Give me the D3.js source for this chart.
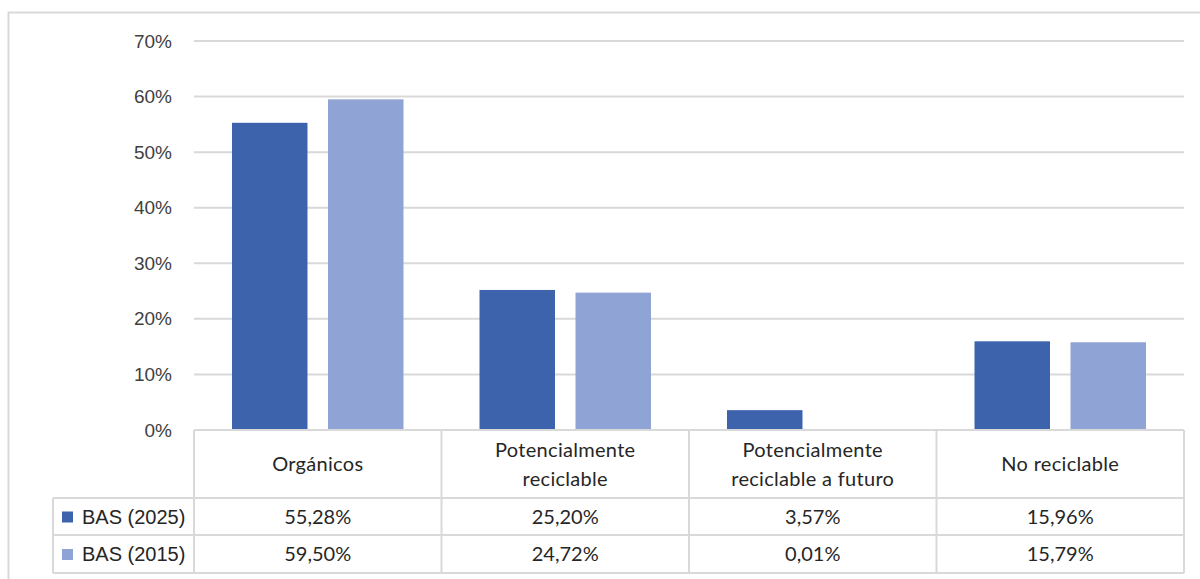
<!DOCTYPE html>
<html><head><meta charset="utf-8">
<script src="https://cdn.jsdelivr.net/npm/d3@7/dist/d3.min.js"></script>
<style>body{margin:0;background:#fff}svg{display:block}</style>
</head><body>
<svg id="c" width="1200" height="579"></svg>
<script>
const categories = [["Orgánicos"], ["Potencialmente", "reciclable"], ["Potencialmente", "reciclable a futuro"], ["No reciclable"]];
const seriesNames = ["BAS (2025)", "BAS (2015)"];
const bas2025 = [55.28, 25.20, 3.57, 15.96];
const bas2015 = [59.50, 24.72, 0.01, 15.79];
const yTicks = [0, 10, 20, 30, 40, 50, 60, 70];
const colors = ["#3C63AC", "#8FA3D4"];

const svg = d3.select("#c");
const L = 194, R = 1184, T = 41, B = 430;
const tableRows = [430, 498, 535, 573];
const legendLeft = 53;

// outer frame
svg.append("rect").attr("x", 8.5).attr("y", 12.5).attr("width", 1250).attr("height", 650)
  .attr("fill", "none").attr("stroke", "#d9d9d9").attr("stroke-width", 2);

const x0 = d3.scaleBand().domain(d3.range(categories.length)).range([L, R]);
const y = d3.scaleLinear().domain([0, 70]).range([B, T]);

// gridlines
svg.append("g").selectAll("line").data(yTicks.filter(d => d > 0)).join("line")
  .attr("x1", L).attr("x2", R).attr("y1", d => y(d)).attr("y2", d => y(d))
  .attr("stroke", "#d9d9d9").attr("stroke-width", 2);

// y axis labels
const yAxis = d3.axisLeft(y).tickValues(yTicks).tickFormat(d => d + "%").tickSize(0).tickPadding(22);
const ya = svg.append("g").attr("transform", `translate(${L},0)`).call(yAxis);
ya.select(".domain").remove();
ya.selectAll("text").attr("font-family", "Liberation Sans, Arial, sans-serif").attr("font-size", 19).attr("fill", "#404040");

// bars
const series = [bas2025, bas2015];
const bw = x0.bandwidth();
const barW = bw * 0.305;
const offsets = [-48, 48];
series.forEach((vals, si) => {
  svg.append("g").selectAll("rect").data(vals).join("rect")
    .attr("x", (d, i) => x0(i) + bw / 2 + offsets[si] - barW / 2)
    .attr("width", barW)
    .attr("y", d => y(d))
    .attr("height", d => y(0) - y(d))
    .attr("fill", colors[si]);
});

// data table
const tg = svg.append("g");
const lineC = "#d9d9d9";
tg.append("line").attr("x1", L).attr("x2", R).attr("y1", tableRows[0]).attr("y2", tableRows[0]).attr("stroke", lineC).attr("stroke-width", 2);
[1, 2, 3].forEach(k => {
  tg.append("line").attr("x1", legendLeft).attr("x2", R).attr("y1", tableRows[k]).attr("y2", tableRows[k]).attr("stroke", lineC).attr("stroke-width", 2);
});
d3.range(categories.length + 1).forEach(i => {
  const xx = i < categories.length ? x0(i) : R;
  tg.append("line").attr("x1", xx).attr("x2", xx).attr("y1", tableRows[0]).attr("y2", tableRows[3]).attr("stroke", lineC).attr("stroke-width", 2);
});
tg.append("line").attr("x1", legendLeft).attr("x2", legendLeft).attr("y1", tableRows[1]).attr("y2", tableRows[3]).attr("stroke", lineC).attr("stroke-width", 2);

const tableFont = "Lato, 'Open Sans', sans-serif";
categories.forEach((lines, i) => {
  const cx = x0(i) + bw / 2;
  const cy = (tableRows[0] + tableRows[1]) / 2;
  const lh = 29;
  lines.forEach((ln, j) => {
    tg.append("text").attr("x", cx).attr("y", cy + (j - (lines.length - 1) / 2) * lh)
      .attr("dy", "0.35em").attr("text-anchor", "middle")
      .attr("font-family", tableFont).attr("font-size", 20).attr("letter-spacing", 0.3).attr("fill", "#262626").text(ln);
  });
});
const fmt = v => v.toFixed(2).replace(".", ",") + "%";
series.forEach((vals, si) => {
  const cy = (tableRows[si + 1] + tableRows[si + 2]) / 2;
  vals.forEach((v, i) => {
    tg.append("text").attr("x", x0(i) + bw / 2).attr("y", cy).attr("dy", "0.35em")
      .attr("text-anchor", "middle").attr("font-family", tableFont).attr("font-size", 20)
      .attr("fill", "#262626").text(fmt(v));
  });
  tg.append("rect").attr("x", 62).attr("y", cy - 5).attr("width", 11).attr("height", 11).attr("fill", colors[si]);
  tg.append("text").attr("x", 82).attr("y", cy).attr("dy", "0.35em")
    .attr("font-family", "Liberation Sans, Arial, sans-serif").attr("font-size", 20)
    .attr("fill", "#262626").text(seriesNames[si]);
});
</script>
</body></html>
